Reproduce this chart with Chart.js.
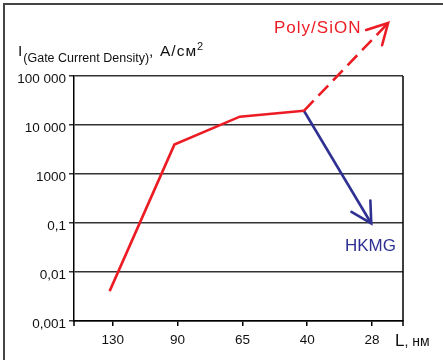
<!DOCTYPE html>
<html>
<head>
<meta charset="utf-8">
<script src="https://cdn.jsdelivr.net/npm/chart.js@4/dist/chart.umd.min.js"></script>
<style>
html,body{margin:0;padding:0;background:#fff;}
#wrap{position:relative;width:443px;height:360px;}
</style>
</head>
<body>
<div id="wrap"><canvas id="c" width="443" height="360"></canvas></div>
<script>
// Categories (gate length, nm) and tick labels
const xLabels = ['130', '90', '65', '40', '28'];
const yLabels = ['0,001', '0,01', '0,1', '1000', '10 000', '100 000'];

// Poly/SiON measured curve (x = category index, y = tick level index)
const polyX = [-0.05, 0.95, 1.96, 2.95];
const polyY = [0.61, 3.60, 4.17, 4.29];
// Poly/SiON projected (dashed) trend
const polyTrendX = [2.95, 4.25];
const polyTrendY = [4.29, 6.08];
// HKMG trend
const hkmgX = [2.95, 3.99];
const hkmgY = [4.29, 1.99];

const RED = '#ec1c24';
const BLUE = '#2e3192';
const FONT = '"Liberation Sans", Arial, sans-serif';

const pts = (xs, ys) => xs.map((x, i) => ({x: x, y: ys[i]}));

const decor = {
  id: 'decor',
  afterDatasetsDraw(chart) {
    const ctx = chart.ctx;
    const ca = chart.chartArea;
    ctx.save();
    // frame
    ctx.strokeStyle = '#444';
    ctx.lineWidth = 2;
    ctx.beginPath();
    ctx.moveTo(4, 360); ctx.lineTo(4, 4); ctx.lineTo(443, 4);
    ctx.stroke();
    // right border of plot + end ticks
    ctx.strokeStyle = '#000';
    ctx.lineWidth = 1.5;
    ctx.beginPath();
    ctx.moveTo(ca.right, ca.top); ctx.lineTo(ca.right, ca.bottom + 5);
    ctx.moveTo(ca.left, ca.bottom); ctx.lineTo(ca.left, ca.bottom + 5);
    ctx.stroke();

    // arrowheads
    const arrow = (dsIndex, color) => {
      const meta = chart.getDatasetMeta(dsIndex);
      const n = meta.data.length;
      const a = meta.data[n - 2], b = meta.data[n - 1];
      const ang = Math.atan2(b.y - a.y, b.x - a.x);
      const L = 23, h = 0.5;
      ctx.strokeStyle = color;
      ctx.lineWidth = 2.6;
      ctx.lineCap = 'round';
      ctx.setLineDash([]);
      ctx.beginPath();
      ctx.moveTo(b.x - L * Math.cos(ang - h), b.y - L * Math.sin(ang - h));
      ctx.lineTo(b.x, b.y);
      ctx.lineTo(b.x - L * Math.cos(ang + h), b.y - L * Math.sin(ang + h));
      ctx.stroke();
    };
    arrow(1, RED);
    arrow(2, BLUE);

    // series labels
    ctx.textBaseline = 'alphabetic';
    ctx.textAlign = 'left';
    ctx.font = '17px ' + FONT;
    ctx.fillStyle = RED;
    try { ctx.letterSpacing = '1px'; } catch (e) {}
    ctx.fillText('Poly/SiON', 274, 33);
    try { ctx.letterSpacing = '0px'; } catch (e) {}
    ctx.fillStyle = BLUE;
    ctx.fillText('HKMG', 345, 251);

    // y-axis title
    ctx.fillStyle = '#111';
    let x = 18;
    ctx.font = '15.5px ' + FONT;
    ctx.fillText('I', x, 56);
    x += ctx.measureText('I').width + 1;
    ctx.font = '12.5px ' + FONT;
    ctx.fillText('(Gate Current Density)', x, 62);
    x += ctx.measureText('(Gate Current Density)').width;
    ctx.font = '15.5px ' + FONT;
    ctx.fillText(',', x, 56);
    x = 160;
    try { ctx.letterSpacing = '1px'; } catch (e) {}
    ctx.fillText('A/см', x, 56);
    x += ctx.measureText('A/см').width;
    try { ctx.letterSpacing = '0px'; } catch (e) {}
    ctx.font = '11px ' + FONT;
    ctx.fillText('2', x, 50);

    // x-axis title
    ctx.fillStyle = '#111';
    ctx.font = '17px ' + FONT;
    ctx.fillText('L', 395, 346);
    const wL = ctx.measureText('L').width;
    ctx.font = '14px ' + FONT;
    ctx.fillText(', нм', 395 + wL, 346);
    ctx.restore();
  }
};

new Chart(document.getElementById('c'), {
  type: 'line',
  data: {
    datasets: [
      {
        data: pts(polyX, polyY),
        borderColor: RED, borderWidth: 2.6, pointRadius: 0, tension: 0,
        clip: false, borderJoinStyle: 'miter'
      },
      {
        data: pts(polyTrendX, polyTrendY),
        borderColor: RED, borderWidth: 2.6, pointRadius: 0, tension: 0,
        borderDash: [14, 7], clip: false
      },
      {
        data: pts(hkmgX, hkmgY),
        borderColor: BLUE, borderWidth: 2.6, pointRadius: 0, tension: 0,
        clip: false
      }
    ]
  },
  options: {
    responsive: false,
    animation: false,
    devicePixelRatio: 1,
    layout: {padding: {left: 0, top: 76, right: 40, bottom: 0}},
    plugins: {legend: {display: false}, tooltip: {enabled: false}},
    scales: {
      x: {
        type: 'linear',
        min: -0.6, max: 4.48,
        afterBuildTicks: (s) => { s.ticks = xLabels.map((_, i) => ({value: i})); },
        afterFit: (s) => { s.height = 39; },
        ticks: {
          callback: (v) => xLabels[v],
          font: {family: FONT, size: 13.5},
          color: '#111',
          padding: 6,
          maxRotation: 0,
          autoSkip: false
        },
        grid: {drawOnChartArea: false, color: '#000', lineWidth: 1.5, tickLength: 5},
        border: {display: true, color: '#000', width: 1.5}
      },
      y: {
        type: 'linear',
        min: 0, max: 5,
        afterBuildTicks: (s) => { s.ticks = yLabels.map((_, i) => ({value: i})); },
        afterFit: (s) => { s.width = 74; },
        ticks: {
          callback: (v) => yLabels[v],
          font: {family: FONT, size: 13.5},
          color: '#111',
          padding: 3,
          labelOffset: 3,
          autoSkip: false
        },
        grid: {color: '#333', lineWidth: 1.5, tickLength: 5},
        border: {display: true, color: '#000', width: 1.5}
      }
    }
  },
  plugins: [decor]
});
</script>
</body>
</html>
